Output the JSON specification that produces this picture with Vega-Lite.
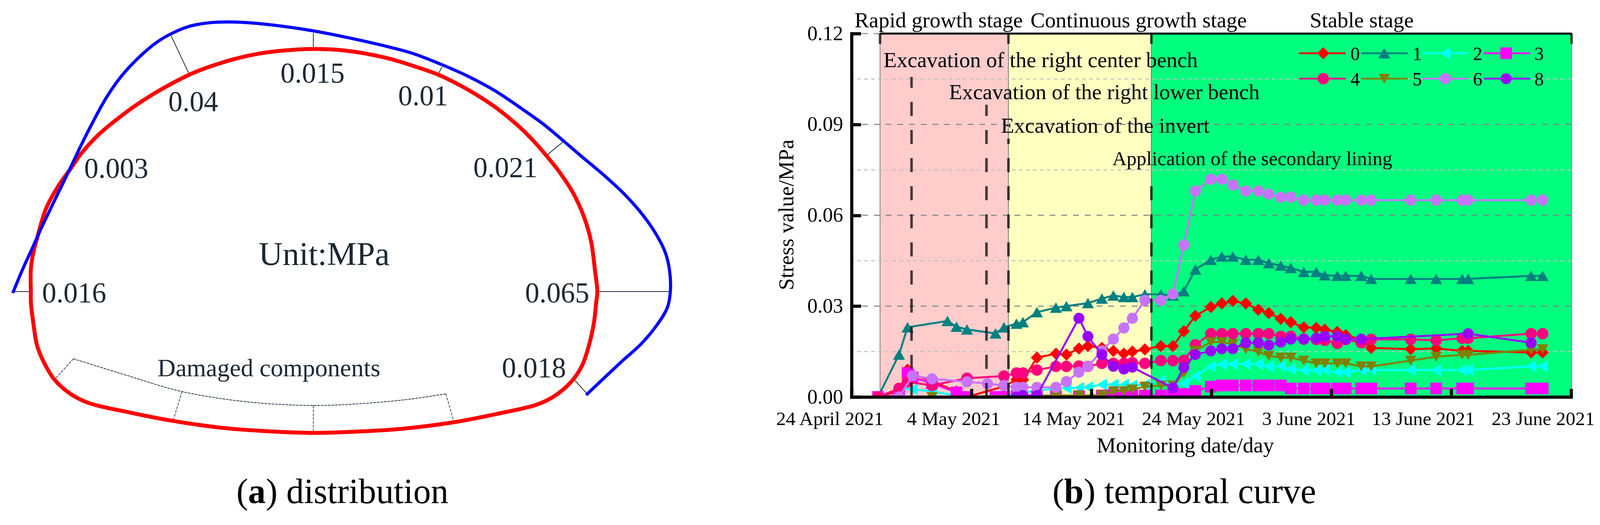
{"$schema":"https://vega.github.io/schema/vega-lite/v6.json","background":"white","padding":0,"spacing":0,"bounds":"flush","config":{"view":{"stroke":null},"font":"Liberation Serif"},
"datasets":{
"page":[{"x":0,"x2":4144,"y":0,"y2":1345}],
"outlines":[
{"c":"red","x":80,"y":754},{"c":"red","x":80,"y":694},{"c":"red","x":87,"y":650},{"c":"red","x":96,"y":616},{"c":"red","x":118,"y":542},{"c":"red","x":150,"y":482},{"c":"red","x":185,"y":433},{"c":"red","x":210,"y":397},{"c":"red","x":255,"y":348},{"c":"red","x":300,"y":310},{"c":"red","x":357,"y":268},{"c":"red","x":415,"y":232},{"c":"red","x":491,"y":192},{"c":"red","x":542,"y":172},{"c":"red","x":606,"y":152},{"c":"red","x":670,"y":138},{"c":"red","x":733,"y":130},{"c":"red","x":810,"y":126},{"c":"red","x":893,"y":130},{"c":"red","x":1000,"y":149},{"c":"red","x":1070,"y":170},{"c":"red","x":1133,"y":192},{"c":"red","x":1189,"y":219},{"c":"red","x":1239,"y":248},{"c":"red","x":1288,"y":281},{"c":"red","x":1337,"y":321},{"c":"red","x":1379,"y":362},{"c":"red","x":1414,"y":402},{"c":"red","x":1449,"y":446},{"c":"red","x":1484,"y":500},{"c":"red","x":1512,"y":562},{"c":"red","x":1530,"y":625},{"c":"red","x":1540,"y":700},{"c":"red","x":1546,"y":754},{"c":"red","x":1543,"y":783},{"c":"red","x":1537,"y":836},{"c":"red","x":1523,"y":898},{"c":"red","x":1506,"y":947},{"c":"red","x":1479,"y":987},{"c":"red","x":1439,"y":1022},{"c":"red","x":1392,"y":1046},{"c":"red","x":1285,"y":1071},{"c":"red","x":1171,"y":1093},{"c":"red","x":1044,"y":1109},{"c":"red","x":937,"y":1116},{"c":"red","x":811,"y":1120},{"c":"red","x":696,"y":1116},{"c":"red","x":576,"y":1107},{"c":"red","x":448,"y":1089},{"c":"red","x":335,"y":1067},{"c":"red","x":228,"y":1042},{"c":"red","x":181,"y":1018},{"c":"red","x":141,"y":982},{"c":"red","x":114,"y":938},{"c":"red","x":96,"y":894},{"c":"red","x":87,"y":841},{"c":"red","x":80,"y":783},{"c":"red","x":80,"y":754},
{"c":"blue","x":33,"y":758},{"c":"blue","x":57,"y":700},{"c":"blue","x":83,"y":643},{"c":"blue","x":105,"y":594},{"c":"blue","x":137,"y":527},{"c":"blue","x":172,"y":455},{"c":"blue","x":210,"y":375},{"c":"blue","x":242,"y":312},{"c":"blue","x":274,"y":254},{"c":"blue","x":312,"y":199},{"c":"blue","x":357,"y":150},{"c":"blue","x":408,"y":107},{"c":"blue","x":446,"y":85},{"c":"blue","x":491,"y":67},{"c":"blue","x":542,"y":58},{"c":"blue","x":593,"y":56},{"c":"blue","x":657,"y":59},{"c":"blue","x":746,"y":69},{"c":"blue","x":816,"y":80},{"c":"blue","x":893,"y":95},{"c":"blue","x":1000,"y":119},{"c":"blue","x":1070,"y":138},{"c":"blue","x":1140,"y":165},{"c":"blue","x":1210,"y":196},{"c":"blue","x":1281,"y":234},{"c":"blue","x":1351,"y":281},{"c":"blue","x":1407,"y":321},{"c":"blue","x":1456,"y":362},{"c":"blue","x":1505,"y":404},{"c":"blue","x":1561,"y":451},{"c":"blue","x":1618,"y":504},{"c":"blue","x":1667,"y":560},{"c":"blue","x":1702,"y":612},{"c":"blue","x":1723,"y":656},{"c":"blue","x":1733,"y":700},{"c":"blue","x":1735,"y":754},{"c":"blue","x":1727,"y":796},{"c":"blue","x":1700,"y":841},{"c":"blue","x":1660,"y":889},{"c":"blue","x":1606,"y":938},{"c":"blue","x":1517,"y":1022}],
"arc":[{"x":190,"y":928},{"x":328,"y":971},{"x":471,"y":1013},{"x":643,"y":1040},{"x":811,"y":1049},{"x":937,"y":1044},{"x":1058,"y":1033},{"x":1154,"y":1019}],
"leaders":[{"x":443,"y":92,"x2":491,"y2":194},{"x":811,"y":85,"x2":811,"y2":126},{"x":1144,"y":172,"x2":1132,"y2":196},{"x":1458,"y":366,"x2":1414,"y2":402},{"x":1546,"y":754,"x2":1735,"y2":754},{"x":37,"y":754,"x2":80,"y2":754},{"x":1486,"y":982,"x2":1517,"y2":1016}],
"radials":[{"x":190,"y":928,"x2":141,"y2":982},{"x":471,"y":1013,"x2":448,"y2":1089},{"x":811,"y":1049,"x2":811,"y2":1115},{"x":1154,"y":1019,"x2":1174,"y2":1089}],
"values":[{"x":809,"y":213,"t":"0.015"},{"x":500,"y":287,"t":"0.04"},{"x":301,"y":460,"t":"0.003"},{"x":1095,"y":272,"t":"0.01"},{"x":1308,"y":458,"t":"0.021"},{"x":192,"y":782,"t":"0.016"},{"x":1442,"y":782,"t":"0.065"},{"x":1382,"y":976,"t":"0.018"}],
"curves":[
{"s":"0","t":"2021-04-26T05:00","v":0},{"s":"0","t":"2021-04-27T23:00","v":0.002},{"s":"0","t":"2021-04-28T16:00","v":0.009},{"s":"0","t":"2021-04-29T02:00","v":0.0075},{"s":"0","t":"2021-04-30T17:00","v":0.0052},{"s":"0","t":"2021-05-02T18:00","v":0.0018},{"s":"0","t":"2021-05-03T15:00","v":0},{"s":"0","t":"2021-05-06T17:00","v":0.0035},{"s":"0","t":"2021-05-07T18:00","v":0.0057},{"s":"0","t":"2021-05-08T07:00","v":0.0057},{"s":"0","t":"2021-05-09T11:00","v":0.013},{"s":"0","t":"2021-05-11T01:00","v":0.0143},{"s":"0","t":"2021-05-11T22:00","v":0.014},{"s":"0","t":"2021-05-12T23:00","v":0.016},{"s":"0","t":"2021-05-13T17:00","v":0.0168},{"s":"0","t":"2021-05-14T21:00","v":0.0162},{"s":"0","t":"2021-05-15T20:00","v":0.0152},{"s":"0","t":"2021-05-16T17:00","v":0.0143},{"s":"0","t":"2021-05-17T10:00","v":0.015},{"s":"0","t":"2021-05-18T11:00","v":0.0157},{"s":"0","t":"2021-05-19T19:00","v":0.0168},{"s":"0","t":"2021-05-20T19:00","v":0.0168},{"s":"0","t":"2021-05-21T17:00","v":0.0217},{"s":"0","t":"2021-05-22T16:00","v":0.0268},{"s":"0","t":"2021-05-23T23:00","v":0.0297},{"s":"0","t":"2021-05-24T21:00","v":0.0309},{"s":"0","t":"2021-05-25T19:00","v":0.0317},{"s":"0","t":"2021-05-26T21:00","v":0.0309},{"s":"0","t":"2021-05-27T22:00","v":0.0288},{"s":"0","t":"2021-05-28T19:00","v":0.0277},{"s":"0","t":"2021-05-29T19:00","v":0.0258},{"s":"0","t":"2021-05-30T15:00","v":0.0247},{"s":"0","t":"2021-05-31T17:00","v":0.023},{"s":"0","t":"2021-06-01T18:00","v":0.0228},{"s":"0","t":"2021-06-02T11:00","v":0.0222},{"s":"0","t":"2021-06-03T12:00","v":0.0215},{"s":"0","t":"2021-06-04T05:00","v":0.0204},{"s":"0","t":"2021-06-05T12:00","v":0.019},{"s":"0","t":"2021-06-06T08:00","v":0.0162},{"s":"0","t":"2021-06-09T15:00","v":0.0158},{"s":"0","t":"2021-06-11T18:00","v":0.016},{"s":"0","t":"2021-06-13T22:00","v":0.0152},{"s":"0","t":"2021-06-14T10:00","v":0.0152},{"s":"0","t":"2021-06-19T16:00","v":0.0147},{"s":"0","t":"2021-06-20T15:00","v":0.0147},
{"s":"1","t":"2021-04-26T05:00","v":0},{"s":"1","t":"2021-04-27T23:00","v":0.014},{"s":"1","t":"2021-04-28T16:00","v":0.023},{"s":"1","t":"2021-05-02T00:00","v":0.0251},{"s":"1","t":"2021-05-02T18:00","v":0.0232},{"s":"1","t":"2021-05-03T15:00","v":0.0223},{"s":"1","t":"2021-05-06T00:00","v":0.021},{"s":"1","t":"2021-05-06T17:00","v":0.023},{"s":"1","t":"2021-05-07T18:00","v":0.0242},{"s":"1","t":"2021-05-08T07:00","v":0.0247},{"s":"1","t":"2021-05-09T11:00","v":0.028},{"s":"1","t":"2021-05-11T01:00","v":0.0295},{"s":"1","t":"2021-05-11T22:00","v":0.03},{"s":"1","t":"2021-05-13T17:00","v":0.031},{"s":"1","t":"2021-05-14T21:00","v":0.0325},{"s":"1","t":"2021-05-15T20:00","v":0.0335},{"s":"1","t":"2021-05-16T17:00","v":0.033},{"s":"1","t":"2021-05-17T10:00","v":0.033},{"s":"1","t":"2021-05-18T11:00","v":0.0339},{"s":"1","t":"2021-05-19T19:00","v":0.0339},{"s":"1","t":"2021-05-20T19:00","v":0.0335},{"s":"1","t":"2021-05-21T17:00","v":0.0349},{"s":"1","t":"2021-05-22T16:00","v":0.0421},{"s":"1","t":"2021-05-23T23:00","v":0.0453},{"s":"1","t":"2021-05-24T21:00","v":0.0464},{"s":"1","t":"2021-05-25T19:00","v":0.0464},{"s":"1","t":"2021-05-26T21:00","v":0.0453},{"s":"1","t":"2021-05-27T22:00","v":0.0453},{"s":"1","t":"2021-05-28T19:00","v":0.0442},{"s":"1","t":"2021-05-29T19:00","v":0.0434},{"s":"1","t":"2021-05-30T15:00","v":0.0426},{"s":"1","t":"2021-05-31T17:00","v":0.0413},{"s":"1","t":"2021-06-01T18:00","v":0.0413},{"s":"1","t":"2021-06-02T11:00","v":0.0402},{"s":"1","t":"2021-06-03T12:00","v":0.04},{"s":"1","t":"2021-06-04T05:00","v":0.04},{"s":"1","t":"2021-06-05T12:00","v":0.04},{"s":"1","t":"2021-06-06T08:00","v":0.039},{"s":"1","t":"2021-06-09T15:00","v":0.039},{"s":"1","t":"2021-06-11T18:00","v":0.039},{"s":"1","t":"2021-06-13T22:00","v":0.039},{"s":"1","t":"2021-06-14T10:00","v":0.039},{"s":"1","t":"2021-06-19T16:00","v":0.04},{"s":"1","t":"2021-06-20T15:00","v":0.04},
{"s":"2","t":"2021-04-27T23:00","v":0.0028},{"s":"2","t":"2021-04-29T02:00","v":0.0025},{"s":"2","t":"2021-04-30T17:00","v":0.0018},{"s":"2","t":"2021-05-02T18:00","v":0.0005},{"s":"2","t":"2021-05-03T15:00","v":0},{"s":"2","t":"2021-05-06T17:00","v":0.0005},{"s":"2","t":"2021-05-07T18:00","v":0.0009},{"s":"2","t":"2021-05-09T11:00","v":0.0022},{"s":"2","t":"2021-05-11T01:00","v":0.0027},{"s":"2","t":"2021-05-11T22:00","v":0.003},{"s":"2","t":"2021-05-12T23:00","v":0.003},{"s":"2","t":"2021-05-13T17:00","v":0.0032},{"s":"2","t":"2021-05-14T21:00","v":0.0041},{"s":"2","t":"2021-05-15T20:00","v":0.0041},{"s":"2","t":"2021-05-16T17:00","v":0.0041},{"s":"2","t":"2021-05-17T10:00","v":0.0038},{"s":"2","t":"2021-05-18T11:00","v":0.0041},{"s":"2","t":"2021-05-19T19:00","v":0.0054},{"s":"2","t":"2021-05-20T19:00","v":0.0038},{"s":"2","t":"2021-05-21T17:00","v":0.0045},{"s":"2","t":"2021-05-22T16:00","v":0.0069},{"s":"2","t":"2021-05-23T23:00","v":0.0101},{"s":"2","t":"2021-05-24T21:00","v":0.0108},{"s":"2","t":"2021-05-25T19:00","v":0.0108},{"s":"2","t":"2021-05-26T21:00","v":0.0108},{"s":"2","t":"2021-05-27T22:00","v":0.0108},{"s":"2","t":"2021-05-28T19:00","v":0.0101},{"s":"2","t":"2021-05-29T19:00","v":0.0101},{"s":"2","t":"2021-05-30T15:00","v":0.0092},{"s":"2","t":"2021-05-31T17:00","v":0.0089},{"s":"2","t":"2021-06-01T18:00","v":0.0088},{"s":"2","t":"2021-06-02T11:00","v":0.0089},{"s":"2","t":"2021-06-03T12:00","v":0.0082},{"s":"2","t":"2021-06-04T05:00","v":0.0082},{"s":"2","t":"2021-06-05T12:00","v":0.0089},{"s":"2","t":"2021-06-06T08:00","v":0.0089},{"s":"2","t":"2021-06-09T15:00","v":0.0089},{"s":"2","t":"2021-06-11T18:00","v":0.0089},{"s":"2","t":"2021-06-13T22:00","v":0.0089},{"s":"2","t":"2021-06-14T10:00","v":0.0089},{"s":"2","t":"2021-06-19T16:00","v":0.0101},{"s":"2","t":"2021-06-20T15:00","v":0.0101},
{"s":"3","t":"2021-04-26T05:00","v":0},{"s":"3","t":"2021-04-27T23:00","v":0.0005},{"s":"3","t":"2021-04-28T16:00","v":0.0079},{"s":"3","t":"2021-04-29T02:00","v":0.0065},{"s":"3","t":"2021-04-30T17:00","v":0.0045},{"s":"3","t":"2021-05-02T18:00","v":0.0015},{"s":"3","t":"2021-05-03T15:00","v":0},{"s":"3","t":"2021-05-06T00:00","v":0},{"s":"3","t":"2021-05-06T17:00","v":0},{"s":"3","t":"2021-05-07T18:00","v":0.0003},{"s":"3","t":"2021-05-09T11:00","v":0.0003},{"s":"3","t":"2021-05-11T01:00","v":0.0003},{"s":"3","t":"2021-05-12T23:00","v":0.0003},{"s":"3","t":"2021-05-14T21:00","v":0.0005},{"s":"3","t":"2021-05-15T20:00","v":0.0008},{"s":"3","t":"2021-05-16T17:00","v":0.0005},{"s":"3","t":"2021-05-17T10:00","v":0.0005},{"s":"3","t":"2021-05-18T11:00","v":0.0005},{"s":"3","t":"2021-05-19T19:00","v":0.0005},{"s":"3","t":"2021-05-20T19:00","v":0.0005},{"s":"3","t":"2021-05-21T17:00","v":0.001},{"s":"3","t":"2021-05-22T16:00","v":0.002},{"s":"3","t":"2021-05-23T23:00","v":0.0034},{"s":"3","t":"2021-05-24T21:00","v":0.0038},{"s":"3","t":"2021-05-25T19:00","v":0.0038},{"s":"3","t":"2021-05-26T21:00","v":0.0038},{"s":"3","t":"2021-05-27T22:00","v":0.0038},{"s":"3","t":"2021-05-28T19:00","v":0.0038},{"s":"3","t":"2021-05-29T19:00","v":0.0038},{"s":"3","t":"2021-05-30T15:00","v":0.0028},{"s":"3","t":"2021-05-31T17:00","v":0.0028},{"s":"3","t":"2021-06-01T18:00","v":0.0028},{"s":"3","t":"2021-06-02T11:00","v":0.0028},{"s":"3","t":"2021-06-03T12:00","v":0.0028},{"s":"3","t":"2021-06-04T05:00","v":0.0028},{"s":"3","t":"2021-06-05T12:00","v":0.0028},{"s":"3","t":"2021-06-06T08:00","v":0.0028},{"s":"3","t":"2021-06-09T15:00","v":0.0028},{"s":"3","t":"2021-06-11T18:00","v":0.0028},{"s":"3","t":"2021-06-13T22:00","v":0.0028},{"s":"3","t":"2021-06-14T10:00","v":0.0028},{"s":"3","t":"2021-06-19T16:00","v":0.0028},{"s":"3","t":"2021-06-20T15:00","v":0.0028},
{"s":"4","t":"2021-04-26T05:00","v":0},{"s":"4","t":"2021-04-27T23:00","v":0.0028},{"s":"4","t":"2021-04-28T16:00","v":0.005},{"s":"4","t":"2021-04-30T17:00","v":0.0038},{"s":"4","t":"2021-05-03T15:00","v":0.0062},{"s":"4","t":"2021-05-06T17:00","v":0.0069},{"s":"4","t":"2021-05-07T18:00","v":0.0079},{"s":"4","t":"2021-05-08T07:00","v":0.0079},{"s":"4","t":"2021-05-09T11:00","v":0.0089},{"s":"4","t":"2021-05-11T01:00","v":0.0101},{"s":"4","t":"2021-05-11T22:00","v":0.0101},{"s":"4","t":"2021-05-12T23:00","v":0.0102},{"s":"4","t":"2021-05-13T17:00","v":0.0101},{"s":"4","t":"2021-05-14T21:00","v":0.0111},{"s":"4","t":"2021-05-15T20:00","v":0.0111},{"s":"4","t":"2021-05-16T17:00","v":0.0111},{"s":"4","t":"2021-05-17T10:00","v":0.0113},{"s":"4","t":"2021-05-18T11:00","v":0.0111},{"s":"4","t":"2021-05-19T19:00","v":0.012},{"s":"4","t":"2021-05-20T19:00","v":0.012},{"s":"4","t":"2021-05-21T17:00","v":0.0121},{"s":"4","t":"2021-05-22T16:00","v":0.0172},{"s":"4","t":"2021-05-23T23:00","v":0.0209},{"s":"4","t":"2021-05-24T21:00","v":0.0209},{"s":"4","t":"2021-05-25T19:00","v":0.0209},{"s":"4","t":"2021-05-26T21:00","v":0.0209},{"s":"4","t":"2021-05-27T22:00","v":0.0209},{"s":"4","t":"2021-05-28T19:00","v":0.0209},{"s":"4","t":"2021-05-29T19:00","v":0.02},{"s":"4","t":"2021-05-30T15:00","v":0.02},{"s":"4","t":"2021-05-31T17:00","v":0.0191},{"s":"4","t":"2021-06-01T18:00","v":0.019},{"s":"4","t":"2021-06-02T11:00","v":0.0187},{"s":"4","t":"2021-06-03T12:00","v":0.0177},{"s":"4","t":"2021-06-04T05:00","v":0.019},{"s":"4","t":"2021-06-05T12:00","v":0.0179},{"s":"4","t":"2021-06-06T08:00","v":0.019},{"s":"4","t":"2021-06-09T15:00","v":0.019},{"s":"4","t":"2021-06-11T18:00","v":0.0187},{"s":"4","t":"2021-06-13T22:00","v":0.0194},{"s":"4","t":"2021-06-14T10:00","v":0.0194},{"s":"4","t":"2021-06-19T16:00","v":0.0209},{"s":"4","t":"2021-06-20T15:00","v":0.0209},
{"s":"5","t":"2021-04-30T17:00","v":0},{"s":"5","t":"2021-05-11T01:00","v":0.0005},{"s":"5","t":"2021-05-12T23:00","v":0.0005},{"s":"5","t":"2021-05-14T21:00","v":0.0006},{"s":"5","t":"2021-05-15T20:00","v":0.0019},{"s":"5","t":"2021-05-16T17:00","v":0.0019},{"s":"5","t":"2021-05-17T10:00","v":0.0025},{"s":"5","t":"2021-05-18T11:00","v":0.0034},{"s":"5","t":"2021-05-19T19:00","v":0.0038},{"s":"5","t":"2021-05-20T19:00","v":0.0038},{"s":"5","t":"2021-05-21T17:00","v":0.0079},{"s":"5","t":"2021-05-22T16:00","v":0.0153},{"s":"5","t":"2021-05-23T23:00","v":0.0181},{"s":"5","t":"2021-05-24T21:00","v":0.0181},{"s":"5","t":"2021-05-25T19:00","v":0.0175},{"s":"5","t":"2021-05-26T21:00","v":0.0158},{"s":"5","t":"2021-05-27T22:00","v":0.0149},{"s":"5","t":"2021-05-28T19:00","v":0.0136},{"s":"5","t":"2021-05-29T19:00","v":0.013},{"s":"5","t":"2021-05-30T15:00","v":0.013},{"s":"5","t":"2021-05-31T17:00","v":0.012},{"s":"5","t":"2021-06-01T18:00","v":0.0111},{"s":"5","t":"2021-06-02T11:00","v":0.0111},{"s":"5","t":"2021-06-03T12:00","v":0.0111},{"s":"5","t":"2021-06-04T05:00","v":0.0111},{"s":"5","t":"2021-06-05T12:00","v":0.0101},{"s":"5","t":"2021-06-06T08:00","v":0.0101},{"s":"5","t":"2021-06-09T15:00","v":0.012},{"s":"5","t":"2021-06-11T18:00","v":0.0133},{"s":"5","t":"2021-06-13T22:00","v":0.0139},{"s":"5","t":"2021-06-14T10:00","v":0.0139},{"s":"5","t":"2021-06-19T16:00","v":0.0156},{"s":"5","t":"2021-06-20T15:00","v":0.0158},
{"s":"6","t":"2021-04-27T23:00","v":0},{"s":"6","t":"2021-04-29T02:00","v":0.007},{"s":"6","t":"2021-04-30T17:00","v":0.006},{"s":"6","t":"2021-05-03T15:00","v":0.005},{"s":"6","t":"2021-05-05T08:00","v":0.0044},{"s":"6","t":"2021-05-06T17:00","v":0.0038},{"s":"6","t":"2021-05-07T18:00","v":0.0032},{"s":"6","t":"2021-05-08T07:00","v":0.0032},{"s":"6","t":"2021-05-09T11:00","v":0.0032},{"s":"6","t":"2021-05-11T01:00","v":0.0032},{"s":"6","t":"2021-05-11T22:00","v":0.0051},{"s":"6","t":"2021-05-12T23:00","v":0.0082},{"s":"6","t":"2021-05-13T17:00","v":0.0101},{"s":"6","t":"2021-05-14T21:00","v":0.0152},{"s":"6","t":"2021-05-15T20:00","v":0.0191},{"s":"6","t":"2021-05-16T17:00","v":0.0228},{"s":"6","t":"2021-05-17T10:00","v":0.026},{"s":"6","t":"2021-05-18T11:00","v":0.0319},{"s":"6","t":"2021-05-19T19:00","v":0.0319},{"s":"6","t":"2021-05-20T19:00","v":0.034},{"s":"6","t":"2021-05-21T17:00","v":0.0502},{"s":"6","t":"2021-05-22T16:00","v":0.068},{"s":"6","t":"2021-05-23T23:00","v":0.0719},{"s":"6","t":"2021-05-24T21:00","v":0.0719},{"s":"6","t":"2021-05-25T19:00","v":0.07},{"s":"6","t":"2021-05-26T21:00","v":0.068},{"s":"6","t":"2021-05-27T22:00","v":0.068},{"s":"6","t":"2021-05-28T19:00","v":0.067},{"s":"6","t":"2021-05-29T19:00","v":0.066},{"s":"6","t":"2021-05-30T15:00","v":0.066},{"s":"6","t":"2021-05-31T17:00","v":0.065},{"s":"6","t":"2021-06-01T18:00","v":0.065},{"s":"6","t":"2021-06-02T11:00","v":0.065},{"s":"6","t":"2021-06-03T12:00","v":0.065},{"s":"6","t":"2021-06-04T05:00","v":0.065},{"s":"6","t":"2021-06-05T12:00","v":0.065},{"s":"6","t":"2021-06-06T08:00","v":0.065},{"s":"6","t":"2021-06-09T15:00","v":0.065},{"s":"6","t":"2021-06-11T18:00","v":0.065},{"s":"6","t":"2021-06-13T22:00","v":0.065},{"s":"6","t":"2021-06-14T10:00","v":0.065},{"s":"6","t":"2021-06-19T16:00","v":0.065},{"s":"6","t":"2021-06-20T15:00","v":0.065},
{"s":"8","t":"2021-05-07T18:00","v":0},{"s":"8","t":"2021-05-08T07:00","v":0.0005},{"s":"8","t":"2021-05-09T11:00","v":0.0005},{"s":"8","t":"2021-05-12T23:00","v":0.026},{"s":"8","t":"2021-05-13T17:00","v":0.02},{"s":"8","t":"2021-05-14T21:00","v":0.014},{"s":"8","t":"2021-05-15T20:00","v":0.0101},{"s":"8","t":"2021-05-16T17:00","v":0.0092},{"s":"8","t":"2021-05-17T10:00","v":0.0098},{"s":"8","t":"2021-05-20T19:00","v":0.003},{"s":"8","t":"2021-05-21T17:00","v":0.0098},{"s":"8","t":"2021-05-22T16:00","v":0.014},{"s":"8","t":"2021-05-23T23:00","v":0.0152},{"s":"8","t":"2021-05-24T21:00","v":0.0159},{"s":"8","t":"2021-05-25T19:00","v":0.0159},{"s":"8","t":"2021-05-26T21:00","v":0.0179},{"s":"8","t":"2021-05-27T22:00","v":0.0179},{"s":"8","t":"2021-05-28T19:00","v":0.0171},{"s":"8","t":"2021-05-29T19:00","v":0.0181},{"s":"8","t":"2021-05-30T15:00","v":0.0191},{"s":"8","t":"2021-05-31T17:00","v":0.0191},{"s":"8","t":"2021-06-01T18:00","v":0.0194},{"s":"8","t":"2021-06-02T11:00","v":0.02},{"s":"8","t":"2021-06-03T12:00","v":0.02},{"s":"8","t":"2021-06-04T05:00","v":0.0191},{"s":"8","t":"2021-06-05T12:00","v":0.0191},{"s":"8","t":"2021-06-14T10:00","v":0.0209},{"s":"8","t":"2021-06-19T16:00","v":0.0179}
],
"regions":[{"stage":"Rapid growth stage","a":"2021-04-26T09:00","b":"2021-05-07T02:00"},{"stage":"Continuous growth stage","a":"2021-05-07T02:00","b":"2021-05-19T00:00"},{"stage":"Stable stage","a":"2021-05-19T00:00","b":"2021-06-23T01:00"}],
"majorGrid":[{"v":0.12},{"v":0.09},{"v":0.06},{"v":0.03}],
"minorGrid":[{"v":0.105},{"v":0.075},{"v":0.045},{"v":0.015}],
"events":[{"t":"2021-04-29T00:00","from":0,"to":0.1057},{"t":"2021-05-05T06:00","from":0,"to":0.0965},{"t":"2021-05-07T02:00","from":0,"to":0.0853},{"t":"2021-05-19T00:00","from":0,"to":0.0738},{"t":"2021-04-26T09:00","from":0.1166,"to":0.12},{"t":"2021-05-07T02:00","from":0.1166,"to":0.12},{"t":"2021-05-19T00:00","from":0.1166,"to":0.12},{"t":"2021-06-23T01:00","from":0.1166,"to":0.12}],
"topEdge":[{"a":"2021-04-26T09:00","b":"2021-06-23T01:00","v":0.12}],
"stages":[{"t":"2021-04-24T06:00","v":0.122,"text":"Rapid growth stage"},{"t":"2021-05-08T22:00","v":0.122,"text":"Continuous growth stage"},{"t":"2021-06-01T05:00","v":0.122,"text":"Stable stage"},{"t":"2021-04-26T16:00","v":0.1089,"text":"Excavation of the right center bench"},{"t":"2021-05-02T03:00","v":0.0984,"text":"Excavation of the right lower bench"},{"t":"2021-05-06T11:00","v":0.0873,"text":"Excavation of the invert"}],
"lining":[{"t":"2021-05-15T18:00","v":0.0765,"text":"Application of  the secondary lining"}],
"key":[{"s":"0","a":"2021-05-31T08:00","b":"2021-06-04T05:00","m":"2021-06-02T08:00","l":"2021-06-05T00:00","v":0.1135,"lv":0.1112},{"s":"1","a":"2021-06-05T12:00","b":"2021-06-09T09:00","m":"2021-06-07T10:00","l":"2021-06-10T04:00","v":0.1135,"lv":0.1112},{"s":"2","a":"2021-06-10T14:00","b":"2021-06-14T10:00","m":"2021-06-12T12:00","l":"2021-06-15T05:00","v":0.1135,"lv":0.1112},{"s":"3","a":"2021-06-15T17:00","b":"2021-06-19T14:00","m":"2021-06-17T14:00","l":"2021-06-20T08:00","v":0.1135,"lv":0.1112},{"s":"4","a":"2021-05-31T08:00","b":"2021-06-04T05:00","m":"2021-06-02T08:00","l":"2021-06-05T00:00","v":0.1051,"lv":0.1029},{"s":"5","a":"2021-06-05T12:00","b":"2021-06-09T09:00","m":"2021-06-07T10:00","l":"2021-06-10T04:00","v":0.1051,"lv":0.1029},{"s":"6","a":"2021-06-10T14:00","b":"2021-06-14T10:00","m":"2021-06-12T12:00","l":"2021-06-15T05:00","v":0.1051,"lv":0.1029},{"s":"8","a":"2021-06-15T17:00","b":"2021-06-19T14:00","m":"2021-06-17T14:00","l":"2021-06-20T08:00","v":0.1051,"lv":0.1029}]
},
"hconcat":[
{"width":2180,"height":931,
"encoding":{"x":{"field":"x","type":"quantitative","axis":null,"scale":{"domain":[0,2204],"nice":false,"zero":false}},"y":{"field":"y","type":"quantitative","axis":null,"scale":{"domain":[86,1027],"reverse":true,"nice":false,"zero":false}}},
"layer":[
{"data":{"name":"page"},"mark":{"type":"rect","fill":"white"},"encoding":{"x2":{"field":"x2"},"y2":{"field":"y2"}}},
{"data":{"name":"arc"},"mark":{"type":"line","color":"#1c2833","strokeWidth":1.8,"strokeDash":[7,2],"interpolate":"catmull-rom"},"encoding":{"order":{"value":null}}},
{"data":{"name":"radials"},"mark":{"type":"rule","color":"#1c2833","strokeWidth":1.6,"strokeDash":[7,3]},"encoding":{"x2":{"field":"x2"},"y2":{"field":"y2"}}},
{"data":{"name":"leaders"},"mark":{"type":"rule","color":"#1c2833","strokeWidth":2},"encoding":{"x2":{"field":"x2"},"y2":{"field":"y2"}}},
{"data":{"name":"outlines"},"transform":[{"filter":{"field":"c","equal":"red"}}],"mark":{"type":"line","color":"#ff0000","strokeWidth":10,"interpolate":"catmull-rom"},"encoding":{"order":{"value":null}}},
{"data":{"name":"outlines"},"transform":[{"filter":{"field":"c","equal":"blue"}}],"mark":{"type":"line","color":"#0000ff","strokeWidth":8,"interpolate":"catmull-rom"},"encoding":{"order":{"value":null}}},
{"data":{"name":"values"},"mark":{"type":"text","font":"Liberation Serif","fontSize":73,"color":"#1c2833","align":"center","baseline":"alphabetic"},"encoding":{"text":{"field":"t"}}},
{"data":{"values":[{"x":839,"y":685,"t":"Unit:MPa"}]},"mark":{"type":"text","font":"Liberation Serif","fontSize":85,"color":"#1c2833","align":"center","baseline":"alphabetic"},"encoding":{"text":{"field":"t"}}},
{"data":{"values":[{"x":696,"y":973,"t":"Damaged components"}]},"mark":{"type":"text","font":"Liberation Serif","fontSize":64,"color":"#1c2833","align":"center","baseline":"alphabetic"},"encoding":{"text":{"field":"t"}}},
{"data":{"values":[{"x":612,"y":1302,"t":"("},{"x":688,"y":1302,"t":") distribution"},{"x":2724,"y":1302,"t":"("},{"x":2805,"y":1302,"t":") temporal curve"}]},"mark":{"type":"text","font":"Liberation Serif","fontSize":90,"color":"#000000","align":"left","baseline":"alphabetic"},"encoding":{"text":{"field":"t"}}},
{"data":{"values":[{"x":642,"y":1302,"t":"a"},{"x":2754,"y":1302,"t":"b"}]},"mark":{"type":"text","font":"Liberation Serif","fontSize":90,"fontWeight":"bold","color":"#000000","align":"left","baseline":"alphabetic"},"encoding":{"text":{"field":"t"}}}
]},
{"width":1842,"height":931,
"encoding":{
"x":{"field":"t","type":"temporal","scale":{"domain":["2021-04-24T00:00","2021-06-23T00:00"],"nice":false},
"axis":{"title":"Monitoring date/day","titleFont":"Liberation Serif","titleFontSize":55.4,"titleFontWeight":"normal","titleColor":"#000","titleX":854,"titleY":141,"titleBaseline":"alphabetic","values":["2021-04-24T00:00","2021-05-04T00:00","2021-05-14T00:00","2021-05-24T00:00","2021-06-03T00:00","2021-06-13T00:00","2021-06-23T00:00"],"format":"%-d %B %Y","labelFont":"Liberation Serif","labelFontSize":49.5,"labelColor":"#000","labelOffset":{"condition":[{"test":"datum.index<0.1","value":-56},{"test":"datum.index<0.6","value":-46},{"test":"datum.index<0.7","value":-58}],"value":-72},"labelPadding":53,"labelLimit":1000,"labelOverlap":false,"labelFlush":false,"labelBound":false,"domainColor":"#000","domainWidth":8,"domainCap":"square","tickColor":"#000","tickWidth":8,"tickSize":-21,"grid":false,"zindex":1}},
"y":{"field":"v","type":"quantitative","scale":{"domain":[0,0.12],"nice":false},
"axis":{"title":"Stress value/MPa","titleFont":"Liberation Serif","titleFontSize":55.4,"titleFontWeight":"normal","titleColor":"#000","titleX":-150,"titleY":464,"titleBaseline":"alphabetic","titleLimit":1000,"values":[0,0.03,0.06,0.09,0.12],"format":".2f","labelFont":"Liberation Serif","labelFontSize":52.4,"labelColor":"#000","labelPadding":46,"labelOverlap":false,"labelFlush":false,"labelBound":false,"domainColor":"#000","domainWidth":8,"domainCap":"square","tickColor":"#000","tickWidth":8,"tickSize":-24,"grid":false,"zindex":1}},
"color":{"field":"s","type":"nominal","legend":null,"scale":{"domain":["0","1","2","3","4","5","6","8"],"range":["#ff0000","#008080","#00ffff","#ff00ff","#ff0080","#808000","#c873ff","#9900ff"]}},
"shape":{"field":"s","type":"nominal","legend":null,"scale":{"domain":["0","1","2","3","4","5","6","8"],"range":["diamond","triangle-up","triangle-left","square","circle","triangle-down","circle","circle"]}},
"size":{"field":"s","type":"nominal","legend":null,"scale":{"domain":["0","1","2","3","4","5","6","8"],"range":[980,780,780,570,560,780,420,315]}}
},
"layer":[
{"data":{"name":"regions","format":{"parse":{"a":"date","b":"date"}}},"mark":{"type":"rect","stroke":"#808080","strokeWidth":2},"encoding":{"x":{"field":"a","type":"temporal"},"x2":{"field":"b"},"y":null,"color":null,"shape":null,"size":null,"fill":{"field":"stage","type":"nominal","legend":null,"scale":{"domain":["Rapid growth stage","Continuous growth stage","Stable stage"],"range":["#ffcccc","#ffffc0","#00ff7f"]}}}},
{"data":{"name":"minorGrid"},"mark":{"type":"rule","color":"#c0c0c0","strokeWidth":2.5,"strokeDash":[10,8]},"encoding":{"x":null,"color":null,"shape":null,"size":null}},
{"data":{"name":"majorGrid"},"mark":{"type":"rule","color":"#808080","strokeWidth":2.5,"strokeDash":[15,15]},"encoding":{"x":null,"color":null,"shape":null,"size":null}},
{"data":{"name":"topEdge","format":{"parse":{"a":"date","b":"date"}}},"mark":{"type":"rule","color":"#000","strokeWidth":5},"encoding":{"x":{"field":"a","type":"temporal"},"x2":{"field":"b"},"color":null,"shape":null,"size":null}},
{"data":{"name":"curves"},"transform":[{"filter":{"field":"s","equal":"0"}}],"layer":[{"mark":{"type":"line","strokeWidth":5,"clip":true},"encoding":{"shape":null,"size":null}},{"mark":{"type":"point","filled":true,"opacity":1,"clip":true}}]},
{"data":{"name":"curves"},"transform":[{"filter":{"field":"s","equal":"1"}}],"layer":[{"mark":{"type":"line","strokeWidth":5,"clip":true},"encoding":{"shape":null,"size":null}},{"mark":{"type":"point","filled":true,"opacity":1,"clip":true}}]},
{"data":{"name":"curves"},"transform":[{"filter":{"field":"s","equal":"2"}}],"layer":[{"mark":{"type":"line","strokeWidth":5,"clip":true},"encoding":{"shape":null,"size":null}},{"mark":{"type":"point","filled":true,"opacity":1,"clip":true}}]},
{"data":{"name":"curves"},"transform":[{"filter":{"field":"s","equal":"3"}}],"layer":[{"mark":{"type":"line","strokeWidth":5,"clip":true},"encoding":{"shape":null,"size":null}},{"mark":{"type":"point","filled":true,"opacity":1,"clip":true}}]},
{"data":{"name":"curves"},"transform":[{"filter":{"field":"s","equal":"4"}}],"layer":[{"mark":{"type":"line","strokeWidth":5,"clip":true},"encoding":{"shape":null,"size":null}},{"mark":{"type":"point","filled":true,"opacity":1,"clip":true}}]},
{"data":{"name":"curves"},"transform":[{"filter":{"field":"s","equal":"5"}}],"layer":[{"mark":{"type":"line","strokeWidth":5,"clip":true},"encoding":{"shape":null,"size":null}},{"mark":{"type":"point","filled":true,"opacity":1,"clip":true}}]},
{"data":{"name":"curves"},"transform":[{"filter":{"field":"s","equal":"6"}}],"layer":[{"mark":{"type":"line","strokeWidth":5,"clip":true},"encoding":{"shape":null,"size":null}},{"mark":{"type":"point","filled":true,"opacity":1,"clip":true}}]},
{"data":{"name":"curves"},"transform":[{"filter":{"field":"s","equal":"8"}}],"layer":[{"mark":{"type":"line","strokeWidth":5,"clip":true},"encoding":{"shape":null,"size":null}},{"mark":{"type":"point","filled":true,"opacity":1,"clip":true}}]},
{"data":{"name":"events"},"mark":{"type":"rule","color":"#000","opacity":0.72,"strokeWidth":6.5,"strokeDash":[36,36]},"encoding":{"y":{"field":"from","type":"quantitative"},"y2":{"field":"to"},"color":null,"shape":null,"size":null}},
{"data":{"name":"key","format":{"parse":{"a":"date","b":"date"}}},"mark":{"type":"rule","strokeWidth":4.5},"encoding":{"x":{"field":"a","type":"temporal"},"x2":{"field":"b"},"shape":null,"size":null}},
{"data":{"name":"key"},"mark":{"type":"point","filled":true,"opacity":1},"encoding":{"x":{"field":"m","type":"temporal"}}},
{"data":{"name":"key"},"mark":{"type":"text","font":"Liberation Serif","fontSize":47.5,"color":"#000","align":"center","baseline":"alphabetic"},"encoding":{"x":{"field":"l","type":"temporal"},"y":{"field":"lv","type":"quantitative"},"text":{"field":"s"},"color":null,"shape":null,"size":null}},
{"data":{"name":"stages"},"mark":{"type":"text","font":"Liberation Serif","fontSize":55.4,"color":"#000","align":"left","baseline":"alphabetic"},"encoding":{"text":{"field":"text"},"color":null,"shape":null,"size":null}},
{"data":{"name":"lining"},"mark":{"type":"text","font":"Liberation Serif","fontSize":50.6,"color":"#000","align":"left","baseline":"alphabetic"},"encoding":{"text":{"field":"text"},"color":null,"shape":null,"size":null}}
]}
]}
